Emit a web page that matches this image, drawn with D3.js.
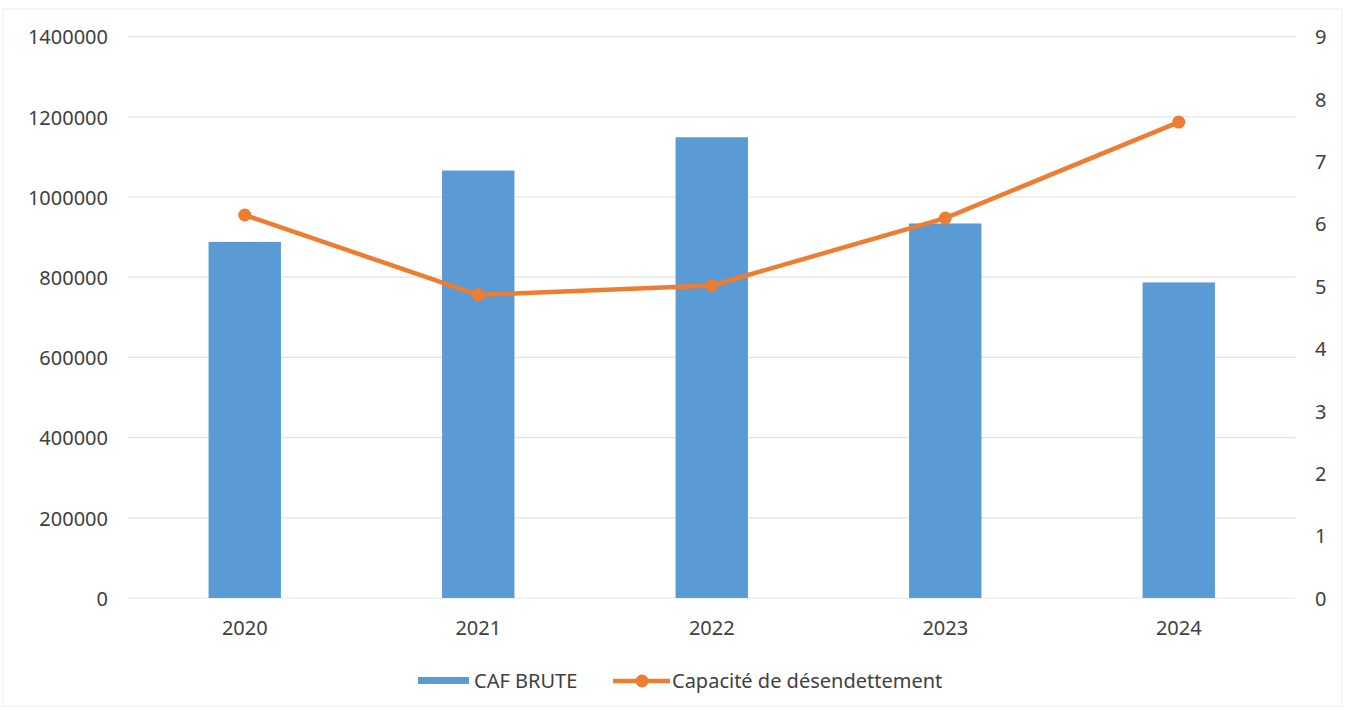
<!DOCTYPE html>
<html>
<head>
<meta charset="utf-8">
<script src="https://cdn.jsdelivr.net/npm/d3@7"></script>
<style>
  body { margin: 0; background: #fff; }
  svg text { font-family: "Noto Sans", "Open Sans", sans-serif; fill: #404040; }
</style>
</head>
<body>
<svg id="chart" width="1346" height="710"></svg>
<script>
// data
var years = ["2020", "2021", "2022", "2023", "2024"];
var cafBrute = [888000, 1066000, 1149000, 934000, 787000];
var capacite = [6.14, 4.86, 5.01, 6.09, 7.63];
var leftTicks = [0, 200000, 400000, 600000, 800000, 1000000, 1200000, 1400000];
var rightTicks = [0, 1, 2, 3, 4, 5, 6, 7, 8, 9];
var seriesNames = ["CAF BRUTE", "Capacité de désendettement"];

var blue = "#5b9bd5", orange = "#ed7d31";

var svg = d3.select("#chart");
var plotLeft = 128, plotRight = 1295.5, plotTop = 36.6, plotBottom = 598;

// faint frame of the chart area
svg.append("rect")
    .attr("x", 3).attr("y", 9).attr("width", 1339).attr("height", 697)
    .attr("fill", "none").attr("stroke", "#eeeeee").attr("stroke-width", 1);

var x = d3.scaleBand().domain(years).range([plotLeft, plotRight])
    .paddingInner(0.69).paddingOuter(0.345);
var yL = d3.scaleLinear().domain([0, 1400000]).range([plotBottom, plotTop]);
var yR = d3.scaleLinear().domain([0, 9]).range([plotBottom, plotTop]);

// gridlines
svg.append("g").selectAll("line")
    .data(leftTicks)
    .enter()
    .append("line")
    .attr("x1", plotLeft).attr("x2", plotRight)
    .attr("y1", function(d){ return yL(d); })
    .attr("y2", function(d){ return yL(d); })
    .attr("stroke", "#e4e4e4")
    .attr("stroke-width", 1.2);

// left axis
var axL = svg.append("g")
    .attr("transform", "translate(" + (plotLeft - 20) + ",0)")
    .call(d3.axisLeft(yL).tickValues(leftTicks).tickFormat(d3.format("d")).tickSize(0).tickPadding(0));
axL.select(".domain").remove();
axL.selectAll("text").style("font-size", "20px").attr("dy", "0.36em");

// right axis
var axR = svg.append("g")
    .attr("transform", "translate(1315,0)")
    .call(d3.axisRight(yR).tickValues(rightTicks).tickSize(0).tickPadding(0));
axR.select(".domain").remove();
axR.selectAll("text").style("font-size", "20px").attr("dy", "0.36em");

// x axis labels
var axX = svg.append("g")
    .attr("transform", "translate(0," + 621 + ")")
    .call(d3.axisBottom(x).tickSize(0).tickPadding(0));
axX.select(".domain").remove();
axX.selectAll("text").style("font-size", "20px").attr("dy", "0.71em");

// bars
svg.append("g").selectAll("rect")
    .data(cafBrute)
    .enter()
    .append("rect")
    .attr("x", function(d, i){ return x(years[i]); })
    .attr("y", function(d){ return yL(d); })
    .attr("width", x.bandwidth())
    .attr("height", function(d){ return plotBottom - yL(d); })
    .attr("fill", blue);

// line
var cx = function(i){ return x(years[i]) + x.bandwidth() / 2; };
var line = d3.line()
    .x(function(d, i){ return cx(i); })
    .y(function(d){ return yR(d); });

svg.append("path")
    .datum(capacite)
    .attr("d", line)
    .attr("fill", "none")
    .attr("stroke", orange)
    .attr("stroke-width", 4.5)
    .attr("stroke-linejoin", "round")
    .attr("stroke-linecap", "round");

svg.append("g").selectAll("circle")
    .data(capacite)
    .enter()
    .append("circle")
    .attr("cx", function(d, i){ return cx(i); })
    .attr("cy", function(d){ return yR(d); })
    .attr("r", 6.5)
    .attr("fill", orange);

// legend
var lg = svg.append("g");
lg.append("rect")
    .attr("x", 418).attr("y", 677).attr("width", 51).attr("height", 7)
    .attr("fill", blue);
lg.append("text")
    .attr("x", 474).attr("y", 681).attr("dy", "0.36em")
    .style("font-size", "20px")
    .text(seriesNames[0]);

lg.append("line")
    .attr("x1", 613).attr("x2", 670).attr("y1", 681).attr("y2", 681)
    .attr("stroke", orange).attr("stroke-width", 4.5);
lg.append("circle")
    .attr("cx", 642).attr("cy", 681).attr("r", 6.5)
    .attr("fill", orange);
lg.append("text")
    .attr("x", 672).attr("y", 681).attr("dy", "0.36em")
    .style("font-size", "20px")
    .text(seriesNames[1]);
</script>
</body>
</html>
